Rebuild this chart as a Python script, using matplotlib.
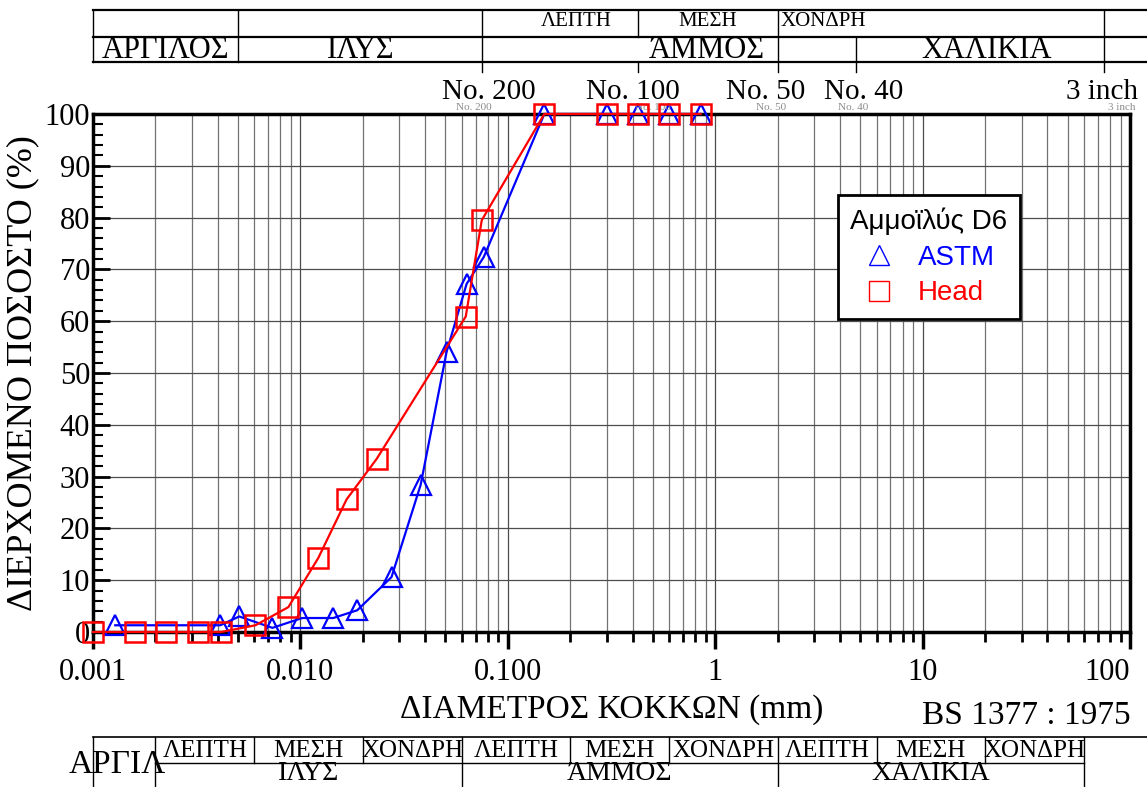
import matplotlib
matplotlib.use('Agg')
import matplotlib.pyplot as plt
from matplotlib.lines import Line2D
from matplotlib.transforms import blended_transform_factory
import numpy as np

# ASTM (blue triangles)
astm_d = [0.00128, 0.00411, 0.00507, 0.00733, 0.0102, 0.0144, 0.0188, 0.0275,
          0.038, 0.0507, 0.0633, 0.0766, 0.150, 0.300, 0.425, 0.600, 0.850]
astm_p = [1.3, 1.3, 3.0, 0.8, 2.7, 2.7, 4.2, 10.6,
          28.4, 54.1, 67.2, 72.4, 100, 100, 100, 100, 100]

# Head (red squares)
head_d = [0.001, 0.0016, 0.00225, 0.00322, 0.00415, 0.00607, 0.00875, 0.0122,
          0.0167, 0.0233, 0.0627, 0.0749, 0.150, 0.300, 0.425, 0.600, 0.850]
head_p = [0, 0, 0, 0, 0, 1.3, 4.8, 14.3,
          25.6, 33.4, 60.9, 79.5, 100, 100, 100, 100, 100]

x_ticks = [0.001, 0.01, 0.1, 1, 10, 100]
x_tick_labels = ['0.001', '0.010', '0.100', '1', '10', '100']

# sieve labels above the plot (position in mm, text)
sieve_pos = [0.0809, 0.402, 1.76, 5.19, 73.3]
sieve_txt = ['No. 200', 'No. 100', 'No. 50', 'No. 40', '3 inch']
sieve_small_pos = [0.0685, 0.502, 1.86, 4.64, 91.4]

# top classification table (ASTM style)
top_bounds = [0.001, 0.005, 0.075, 0.425, 2.0, 4.75, 75]
top_row1 = [(0.213, 'ΛΕΠΤΗ'), (0.925, 'ΜΕΣΗ'), (3.33, 'ΧΟΝΔΡΗ')]
top_row2 = [(0.00223, 'ΑΡΓΙΛΟΣ'), (0.0195, 'ΙΛΥΣ'), (0.914, 'ΆΜΜΟΣ'), (20.4, 'ΧΑΛΙΚΙΑ')]

# bottom classification table (BS 1377)
bs_bounds = [0.002, 0.006, 0.02, 0.06, 0.2, 0.6, 2, 6, 20, 60]
bs_sub = ['ΛΕΠΤΗ', 'ΜΕΣΗ', 'ΧΟΝΔΡΗ'] * 3
bs_main = ['ΙΛΥΣ', 'ΆΜΜΟΣ', 'ΧΑΛΙΚΙΑ']

plt.rcParams['font.family'] = ['Liberation Serif', 'DejaVu Serif']

W, H = 1147, 787
fig = plt.figure(figsize=(W / 100, H / 100), dpi=100)
ax = fig.add_axes([93 / W, (H - 632) / H, 1037 / W, 518 / H])

ax.plot(astm_d, astm_p, color='blue', lw=1.6, marker='^', ms=15, mfc='none',
        mec='blue', mew=1.6, clip_on=False, zorder=3)
ax.plot(head_d, head_p, color='red', lw=1.6, marker='s', ms=14, mfc='none',
        mec='red', mew=1.8, clip_on=False, zorder=4)

ax.set_xscale('log')
ax.set_xlim(0.001, 100)
ax.set_ylim(0, 100)

ax.set_xticks(x_ticks)
ax.set_xticklabels(x_tick_labels)
ax.xaxis.set_minor_locator(matplotlib.ticker.LogLocator(base=10, subs=np.arange(2, 10)))
ax.xaxis.set_minor_formatter(matplotlib.ticker.NullFormatter())
ax.set_yticks(np.arange(0, 101, 10))
ax.set_yticks(np.arange(0, 101, 2), minor=True)

ax.tick_params(axis='x', which='major', direction='out', length=12, width=2.5,
               labelsize=22, pad=7)
ax.tick_params(axis='x', which='minor', direction='out', length=7, width=2)
ax.tick_params(axis='y', which='major', direction='in', length=12, width=2,
               labelsize=22, pad=2)
ax.tick_params(axis='y', which='minor', direction='in', length=7, width=1.5)
ax.get_xticklabels()[-1].set_ha('right')

ax.grid(True, which='major', axis='both', color='0.3', lw=0.9)
ax.grid(True, which='minor', axis='x', color='0.45', lw=0.9)
for s in ax.spines.values():
    s.set_linewidth(2.5)

ax.set_xlabel('ΔΙΑΜΕΤΡΟΣ ΚΟΚΚΩΝ (mm)', fontsize=24, labelpad=5)
ax.set_ylabel('ΔΙΕΡΧΟΜΕΝΟ ΠΟΣΟΣΤΟ (%)', fontsize=26, labelpad=4)

handles = [Line2D([], [], ls='none', marker='^', ms=14, mfc='none', mec='blue', mew=1),
           Line2D([], [], ls='none', marker='s', ms=14, mfc='none', mec='red', mew=1)]
leg = ax.legend(handles, ['ASTM', 'Head'], title='Αμμοϊλύς D6', loc='upper left',
                bbox_to_anchor=(0.718, 0.844), borderaxespad=0, frameon=True,
                fancybox=False,
                prop={'family': 'Liberation Sans', 'size': 20},
                title_fontproperties={'family': 'Liberation Sans', 'size': 20},
                labelcolor=['blue', 'red'], handletextpad=0.8, borderpad=0.45,
                labelspacing=0.35, handlelength=1.2)
leg.get_frame().set_edgecolor('black')
leg.get_frame().set_linewidth(2)
leg.get_frame().set_alpha(1)
leg.set_zorder(10)

tr = blended_transform_factory(ax.transData, fig.transFigure)


def fy(py):
    return 1 - py / H


def hline(x0, x1, py, lw=1.2):
    ax.add_line(Line2D([x0, x1], [fy(py), fy(py)], transform=tr, color='black',
                       lw=lw, clip_on=False))


def vline(x, py0, py1, lw=1.0):
    ax.add_line(Line2D([x, x], [fy(py0), fy(py1)], transform=tr, color='black',
                       lw=lw, clip_on=False))


def label(x, py, txt, size=17, **kw):
    ax.text(x, fy(py), txt, transform=tr, ha='center', va='center',
            fontsize=size, clip_on=False, **kw)


x_right = 130  # beyond the axis, to the figure edge

# top table
hline(top_bounds[0], x_right, 10, lw=1.6)
hline(top_bounds[0], x_right, 37, lw=1.6)
hline(top_bounds[0], x_right, 62, lw=1.6)
vline(top_bounds[0], 10, 62)
vline(top_bounds[1], 10, 62)
vline(top_bounds[2], 10, 72)
vline(top_bounds[3], 10, 37)
vline(top_bounds[3], 62, 72)
vline(top_bounds[4], 10, 72)
vline(top_bounds[5], 37, 72)
vline(top_bounds[6], 10, 72)
for x, t in top_row1:
    label(x, 22, t, size=15)
for x, t in top_row2:
    label(x, 50, t, size=22)

# sieve labels over the plot
for x, t in zip(sieve_pos, sieve_txt):
    label(x, 92, t, size=21)
for x, t in zip(sieve_small_pos, sieve_txt):
    label(x, 108, t, size=8, color='0.55')

label(31.5, 716, 'BS 1377 : 1975', size=24)

# bottom table
hline(0.001, x_right, 737, lw=1.2)
hline(bs_bounds[0], bs_bounds[-1], 763, lw=1.0)
vline(0.001, 737, 790)
for i, b in enumerate(bs_bounds):
    if i % 3 == 0:
        vline(b, 737, 790)
    else:
        vline(b, 737, 763)
for i, t in enumerate(bs_sub):
    xc = np.sqrt(bs_bounds[i] * bs_bounds[i + 1])
    label(xc, 751, t, size=18)
for i, t in enumerate(bs_main):
    xc = np.sqrt(bs_bounds[3 * i] * bs_bounds[3 * i + 3])
    label(xc, 774, t, size=20)
label(0.00131, 765, 'ΑΡΓΙΛ', size=24)

fig.savefig('out.png', dpi=100)
